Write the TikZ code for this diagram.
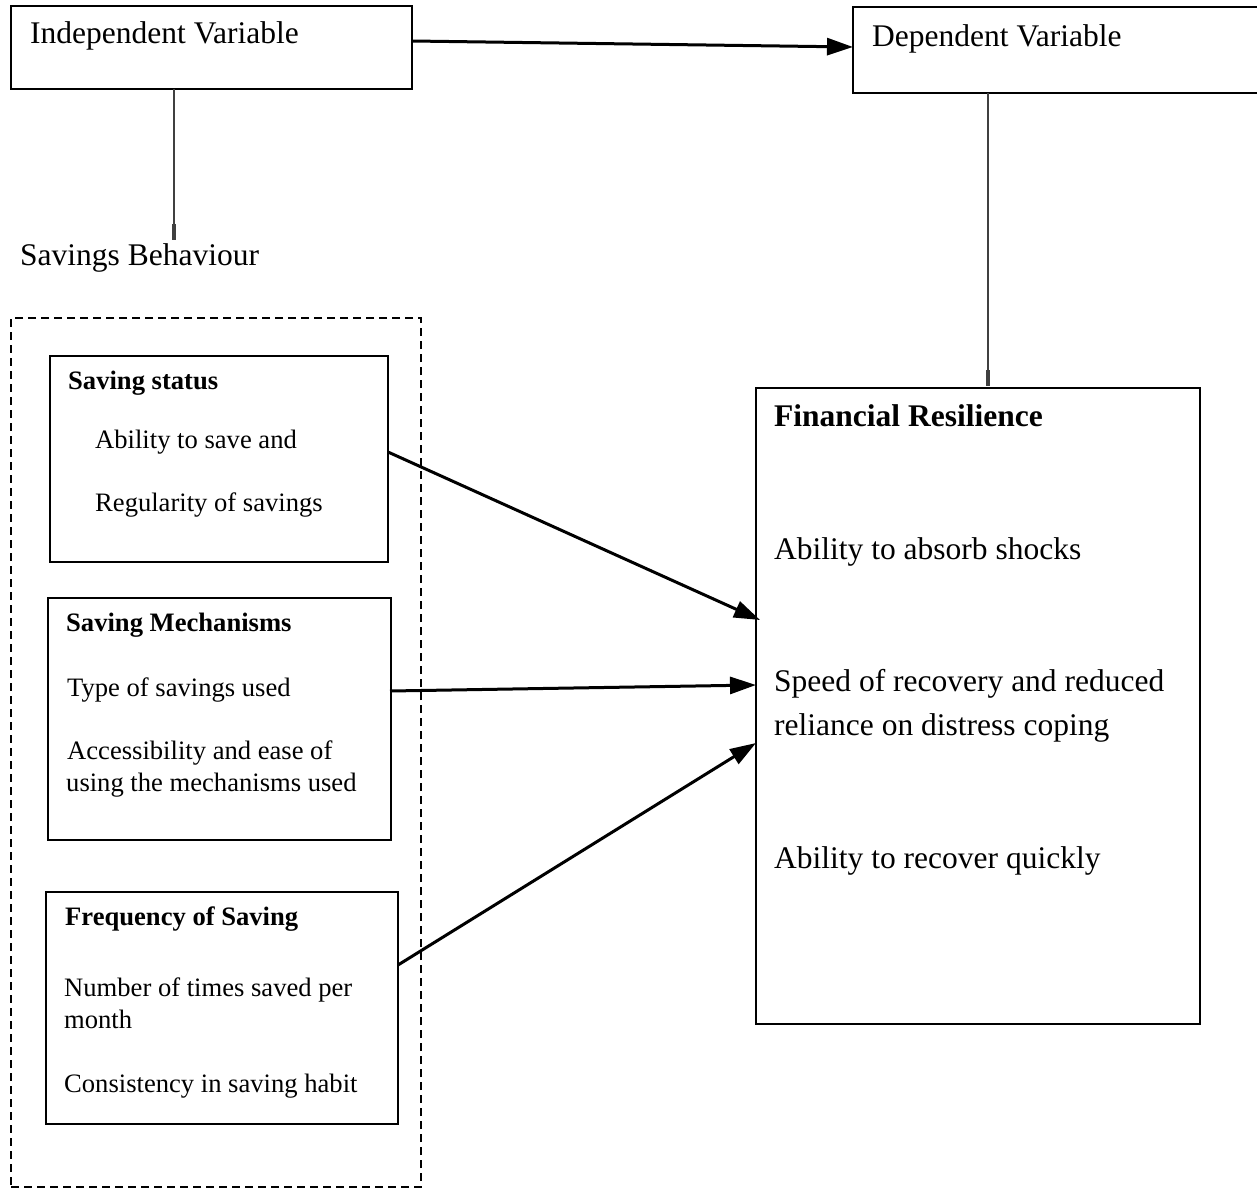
\documentclass[tikz,border=0pt]{standalone}
\usepackage{fontspec}
\setmainfont{Liberation Serif}
\usetikzlibrary{arrows.meta}

\begin{document}
\begin{tikzpicture}[
  x=1pt,y=-1pt,
  box/.style={draw,line width=1.8pt,inner sep=0pt},
  head/.style={anchor=base west,inner sep=0pt,font=\fontsize{31.5}{44}\selectfont},
  item/.style={anchor=base west,inner sep=0pt,font=\fontsize{26.6}{32}\selectfont},
  link/.style={-{Triangle[length=26pt,width=17pt]},line width=3pt},
  stem/.style={-{Rectangle[length=16pt,width=4.5pt]},line width=1.4pt,black!75}
]
  \useasboundingbox (0,0) rectangle (1257,1188);

  % variables
  \node[box,minimum width=401pt,minimum height=83pt] (iv) at (211.5,47.5) {};
  \node[box,minimum width=412pt,minimum height=86pt] (dv) at (1059,50) {};
  \node[head] (ivtext) at (30,44) {Independent Variable};
  \node[head] (dvtext) at (872,47) {Dependent Variable};
  \node[head] (behaviour) at (20,265) {Savings Behaviour};

  \coordinate (ivout) at (412,41);
  \coordinate (dvin) at (853,47);
  \coordinate (ivdown) at (174,89);
  \coordinate (behtop) at (174,240);
  \coordinate (dvdown) at (988,93);
  \coordinate (frtop) at (988,386);
  \draw[link] (ivout) -- (dvin);
  \draw[stem] (ivdown) -- (behtop);
  \draw[stem] (dvdown) -- (frtop);

  % savings behaviour group
  \node[draw,line width=1.8pt,dash pattern=on 8pt off 5pt,inner sep=0pt,
        minimum width=410pt,minimum height=869pt] (group) at (216,752.5) {};

  \node[box,minimum width=338pt,minimum height=206pt] (status) at (219,459) {};
  \node[item,font=\bfseries\fontsize{26.6}{32}\selectfont] (statushd) at (68,389) {Saving status};
  \node[item] (able) at (95,448) {Ability to save and};
  \node[item] (regular) at (95,511) {Regularity of savings};

  \node[box,minimum width=343pt,minimum height=242pt] (mech) at (219.5,719) {};
  \node[item,font=\bfseries\fontsize{26.6}{32}\selectfont] (mechhd) at (66,631) {Saving Mechanisms};
  \node[item] (type) at (67,696) {Type of savings used};
  \node[item] (access) at (67,759) {Accessibility and ease of};
  \node[item] (using) at (66,791) {using the mechanisms used};

  \node[box,minimum width=352pt,minimum height=232pt] (freq) at (222,1008) {};
  \node[item,font=\bfseries\fontsize{26.6}{32}\selectfont] (freqhd) at (65,925) {Frequency of Saving};
  \node[item] (times) at (64,996) {Number of times saved per};
  \node[item] (month) at (64,1028) {month};
  \node[item] (consist) at (64,1092) {Consistency in saving habit};

  % financial resilience
  \node[box,minimum width=444pt,minimum height=636pt] (resil) at (978,706) {};
  \node[head,font=\bfseries\fontsize{31.5}{44}\selectfont] (resilhd) at (774,426) {Financial Resilience};
  \node[head] (absorb) at (774,559) {Ability to absorb shocks};
  \node[head] (speed) at (774,691) {Speed of recovery and reduced};
  \node[head] (reliance) at (774,735) {reliance on distress coping};
  \node[head] (quick) at (774,868) {Ability to recover quickly};

  \coordinate (statusout) at (388,452);
  \coordinate (mechout) at (390,691);
  \coordinate (freqout) at (398,965);
  \coordinate (resilin1) at (760,620);
  \coordinate (resilin2) at (756,685);
  \coordinate (resilin3) at (756,743);
  \draw[link] (statusout) -- (resilin1);
  \draw[link] (mechout) -- (resilin2);
  \draw[link] (freqout) -- (resilin3);
\end{tikzpicture}
\end{document}
